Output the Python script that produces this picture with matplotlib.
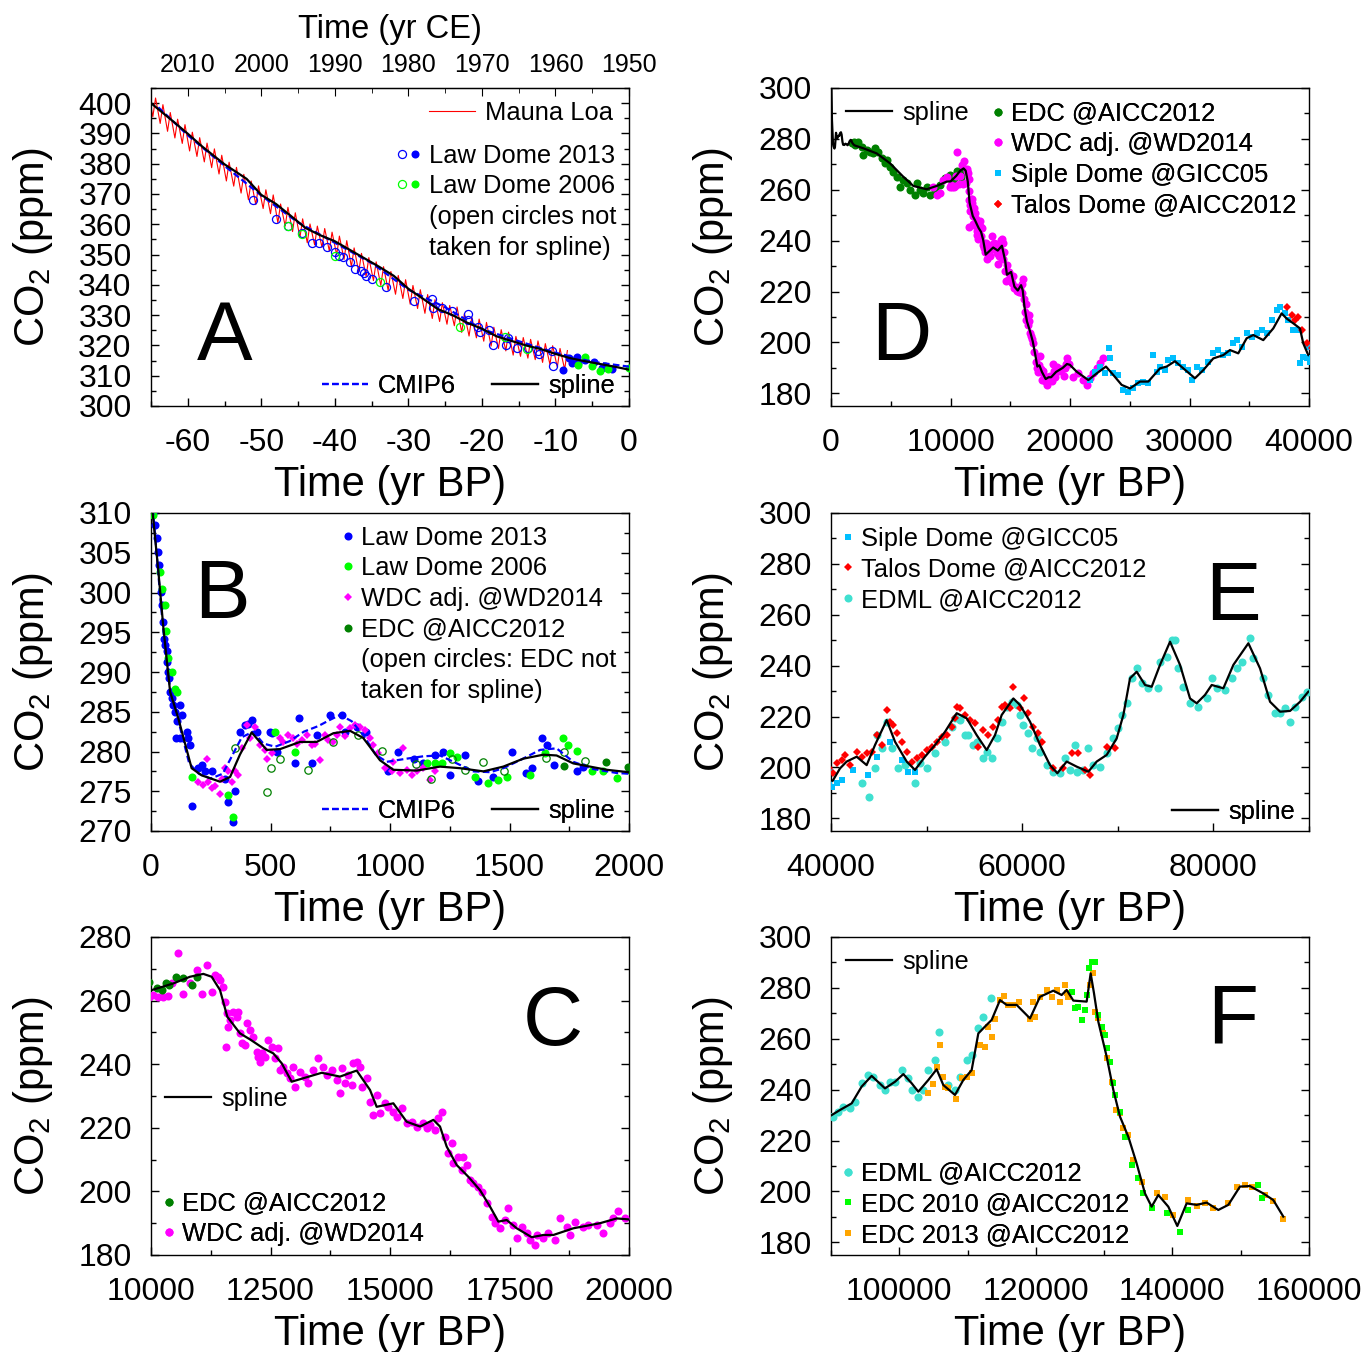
import matplotlib
matplotlib.use('Agg')
import matplotlib.pyplot as plt
from matplotlib.lines import Line2D
from matplotlib.legend_handler import HandlerTuple
from matplotlib.ticker import MultipleLocator, FormatStrFormatter

plt.rcParams['font.family'] = ['Liberation Sans', 'DejaVu Sans']
plt.rcParams['mathtext.fontset'] = 'custom'
plt.rcParams['mathtext.rm'] = 'Liberation Sans'
plt.rcParams['axes.unicode_minus'] = False

# ---------------- data (time in yr BP, CO2 in ppm) ----------------
# Mauna Loa: seasonal maxima (May) and minima (Sep/Oct) per calendar year
ml_year = list(range(1958, 2016))
ml_peak = [318.3, 319.0, 319.9, 320.6, 321.5, 322.0, 322.6, 323.0, 324.4, 325.2,
           326.0, 327.6, 328.7, 329.3, 330.5, 332.7, 333.2, 334.1, 335.1, 336.8,
           338.4, 339.8, 341.7, 343.1, 344.4, 346.0, 347.6, 349.0, 350.4, 352.2,
           354.6, 356.1, 357.4, 358.6, 359.4, 360.1, 361.8, 363.8, 365.6, 366.7,
           369.7, 371.4, 372.7, 374.3, 376.5, 378.8, 380.5, 382.8, 384.9, 386.8,
           388.6, 390.4, 392.9, 394.7, 396.9, 399.5, 401.7, 403.8]
ml_trough = [312.1, 312.8, 313.7, 314.4, 315.3, 315.8, 316.4, 316.8, 318.2, 319.0,
             319.8, 321.4, 322.5, 323.1, 324.3, 326.5, 327.0, 327.9, 328.9, 330.6,
             332.2, 333.6, 335.5, 336.9, 338.2, 339.8, 341.4, 342.8, 344.2, 346.0,
             348.4, 349.9, 351.2, 352.4, 353.2, 353.9, 355.6, 357.6, 359.4, 360.5,
             363.5, 365.2, 366.5, 368.1, 370.3, 372.6, 374.3, 376.6, 378.7, 380.6,
             382.4, 384.2, 386.7, 388.5, 390.7, 393.3, 395.5, 397.6]

spline_bp = [-65, -62, -60, -58, -55, -52, -50, -48, -46, -44, -42, -40, -38, -36,
             -34, -32, -30, -28, -26, -24, -22, -20, -18, -16, -14, -12, -10, -8,
             -6, -4, -2, 0,
             7, 31, 52, 80, 114, 170, 212, 289, 331, 372, 421, 484, 540, 623, 693,
             763, 833, 888, 958, 1014, 1112, 1209, 1293, 1391, 1474, 1558, 1642,
             1697, 1767, 1907, 1997,
             2705, 3821, 4937, 6052, 6889, 8004, 8841, 9678,
             10014, 10467, 10816, 11095, 11269, 11444, 11597, 11862, 12071, 12350,
             12559, 12734, 12943, 13187, 13571, 13954, 14303, 14582, 14721, 15070,
             15349, 15628, 15907, 16046, 16186, 16395, 16639, 16883, 17093, 17267,
             17441, 17651, 17965, 18209, 18418, 18836, 19394, 19743, 19987,
             20556, 21532, 22229, 23010, 23623, 24321, 25018, 25855, 26552, 27528,
             28086, 28783, 29480, 30456, 31154, 31990, 32827, 33385, 34082, 34779,
             35337, 36174, 37011, 37708, 38126, 38684, 39242, 39521, 39939,
             40174, 40941, 41639, 42685, 43731, 44603, 45823, 46695, 47915, 48787,
             49833, 50879, 51925, 53146, 54192, 55238, 56284, 57156, 57853, 59074,
             59771, 60817, 61863, 62909, 63676, 64653, 65699, 66919, 67791, 68837,
             69883, 70581, 71278, 71976, 72848, 73545, 74417, 75463, 76509, 77555,
             78253, 79124, 79822, 81043, 82089, 83658, 84879, 85925, 86971, 88017,
             89063, 89935,
             90098, 91318, 93026, 94491, 95955, 97908, 99372, 100592, 101813,
             102789, 104253, 105473, 106450, 108158, 109378, 110598, 111575,
             112551, 113527, 114747, 115724, 117188, 119141, 120605, 122558,
             123778, 124510, 125487, 127439, 128025, 128513, 129147, 130367,
             131343, 132320, 133540, 134760, 135981, 136955, 137931, 139396,
             140714, 142080, 143545, 145009, 146718, 148182, 149891, 151355,
             153308, 154772, 156237]
spline_co2 = [400.0, 394.0, 389.9, 385.6, 379.8, 375.0, 369.7, 366.7, 362.8, 358.8,
              356.4, 354.4, 351.6, 348.8, 346.0, 343.0, 338.7, 335.4, 332.0, 330.0,
              327.5, 325.5, 323.0, 321.5, 320.0, 318.8, 317.2, 315.8, 314.8, 313.9,
              313.0, 312.0,
              310.0, 302.6, 295.5, 287.5, 284.2, 277.9, 277.0, 276.2, 276.8, 279.6,
              282.4, 280.2, 280.3, 281.2, 281.2, 282.3, 282.6, 281.7, 278.9, 277.7,
              277.6, 278.1, 277.9, 277.5, 278.1, 279.1, 279.6, 279.5, 278.5, 277.7,
              277.4,
              276.3, 274.3, 270.4, 265.1, 261.5, 260.2, 261.5, 263.2,
              263.3, 265.4, 267.5, 268.4, 267.5, 263.3, 254.9, 249.7, 247.8, 245.0,
              243.4, 240.3, 234.5, 235.6, 237.3, 236.1, 238.0, 231.9, 226.6, 227.7,
              221.9, 220.4, 222.5, 220.4, 214.1, 208.3, 204.6, 200.4, 195.2, 190.5,
              191.0, 188.4, 185.6, 186.3, 186.3, 188.4, 190.0, 191.5, 191.2,
              188.5, 185.2, 187.8, 190.5, 187.2, 183.3, 181.9, 184.6, 184.6, 189.8,
              190.5, 192.6, 189.8, 185.9, 189.1, 193.7, 195.0, 197.0, 195.7, 201.6,
              202.9, 200.9, 205.5, 211.4, 209.4, 207.5, 205.5, 199.6, 195.0,
              194.7, 199.6, 202.3, 204.2, 200.9, 208.8, 218.6, 210.1, 202.3, 199.0,
              204.2, 208.8, 214.0, 221.3, 219.3, 212.7, 206.8, 212.7, 220.6, 227.1,
              224.5, 218.0, 208.8, 200.9, 197.7, 202.3, 200.3, 198.3, 202.3, 204.9,
              211.4, 220.6, 235.0, 237.6, 232.4, 231.7, 240.3, 249.4, 240.3, 227.1,
              225.2, 228.5, 232.4, 231.1, 240.3, 248.8, 238.9, 225.8, 221.9, 222.2,
              225.8, 229.8,
              230.0, 232.0, 234.6, 241.2, 245.4, 240.5, 243.1, 246.1, 242.5, 239.2,
              243.8, 248.0, 241.8, 237.9, 243.8, 247.7, 262.1, 264.8, 267.4, 275.2,
              273.3, 273.3, 268.0, 276.5, 278.9, 277.2, 279.2, 275.0, 274.6, 285.7,
              277.9, 266.7, 253.0, 239.9, 229.4, 221.5, 211.0, 199.2, 194.0, 198.6,
              194.0, 186.4, 195.3, 194.7, 195.6, 192.7, 194.7, 201.9, 202.1, 199.2,
              196.6, 190.1]

cmip_bp = [-64, -60, -55, -50, -45, -40, -35, -30, -25, -20, -15, -10, -5, 0,
           15, 40, 60, 80, 100, 130, 160, 200, 250, 300, 340, 380, 428, 470, 520,
           580, 640, 700, 750, 791, 840, 890, 940, 986, 1070, 1140, 1209, 1280,
           1349, 1420, 1474, 1550, 1628, 1697, 1767, 1850, 1948, 2000]
cmip_co2 = [398.6, 389.4, 379.3, 369.5, 360.6, 353.9, 347.2, 338.4, 332.6, 325.4,
            321.4, 317.6, 314.6, 313.0,
            308.0, 299.0, 292.5, 288.0, 285.7, 282.0, 278.5, 277.2, 276.6, 277.2,
            279.5, 281.8, 282.5, 281.0, 280.6, 281.3, 282.5, 283.2, 284.0, 284.6,
            283.8, 282.0, 279.6, 278.7, 279.1, 279.4, 279.5, 278.5, 277.5, 277.4,
            277.9, 279.0, 280.2, 280.4, 278.7, 277.8, 277.3, 277.2]

# Law Dome 2013 (filled: used for spline, open: not used)
ld13_bp = [-9.0, -8.2, -7.8, -7.1, -6.9, -6.0, -4.8, -3.7, -3.2, -2.3,
           7, 17, 24, 31, 35, 40, 45, 52, 54, 59, 66, 68, 73, 77, 80, 86, 93, 100,
           107, 121, 128, 149, 156, 163, 121, 105, 170, 198, 212, 226, 254, 310,
           324, 342, 351, 372, 393, 407, 421, 442, 498, 505, 526, 603, 621, 672,
           693, 749, 798, 812, 861, 900, 993, 1035, 1100, 1139, 1188, 1223, 1251,
           1314, 1370, 1432, 1512, 1568, 1593, 1635, 1656, 1686, 1781, 1809]
ld13_co2 = [311.9, 315.7, 314.3, 316.3, 314.1, 315.2, 314.6, 312.4, 313.2, 312.1,
            310.0, 308.5, 306.8, 305.1, 303.5, 300.1, 298.4, 296.3, 294.2, 293.4,
            292.6, 291.3, 290.0, 289.2, 287.5, 286.7, 285.8, 285.0, 283.8, 285.8,
            284.6, 282.5, 281.7, 280.8, 281.7, 281.7, 273.1, 277.9, 278.3, 277.5,
            277.5, 276.6, 273.7, 271.1, 275.0, 282.5, 283.3, 283.5, 284.0, 282.5,
            282.5, 282.3, 280.0, 278.5, 284.2, 278.5, 282.1, 284.6, 284.6, 282.5,
            283.1, 282.5, 277.5, 280.0, 279.1, 278.6, 279.6, 280.0, 277.0, 279.6,
            276.3, 276.8, 280.0, 277.3, 277.9, 281.7, 280.8, 278.3, 277.5, 278.1]
ld13o_bp = [-51.1, -48.0, -46.4, -44.4, -43.1, -42.2, -41.1, -40.0, -39.4, -38.9,
            -38.0, -37.2, -36.5, -36.0, -35.7, -34.9, -33.0, -29.2, -26.8, -26.7,
            -25.4, -24.1, -21.9, -21.9, -20.6, -20.2, -19.0, -18.5, -16.7, -16.4,
            -15.2, -13.7, -12.4, -12.2, -10.5, -10.3]
ld13o_co2 = [368.0, 361.6, 359.4, 357.0, 353.9, 353.7, 352.4, 350.9, 349.5, 349.3,
             347.5, 345.3, 344.6, 343.8, 343.0, 341.8, 339.4, 334.8, 335.4, 332.2,
             332.2, 331.5, 330.3, 328.4, 326.2, 324.5, 325.1, 320.1, 320.1, 322.3,
             319.0, 319.0, 318.3, 317.2, 318.3, 313.2]

# Law Dome 2006
ld06_bp = [-7.0, -6.0, -5.0, -3.9, -2.8, -0.06,
           10, 38, 45, 59, 63, 73, 86, 100, 107, 170, 324, 342, 519, 603, 1153,
           1188, 1216, 1251, 1279, 1356, 1411, 1453, 1488, 1586, 1649, 1725, 1746,
           1781, 1844, 1893, 1948]
ld06_co2 = [313.5, 316.3, 313.2, 311.6, 312.1, 312.4,
            309.7, 302.6, 300.5, 298.4, 295.1, 291.7, 290.0, 287.9, 287.5, 276.8,
            274.5, 271.8, 282.5, 280.0, 278.5, 278.5, 278.5, 279.8, 279.3, 276.8,
            276.0, 276.4, 276.8, 277.0, 279.8, 281.7, 280.8, 280.1, 277.5, 277.5,
            276.7]
ld06o_bp = [-46.4, -44.4, -40.0, -33.8, -23.0, -16.8, -13.9]
ld06o_co2 = [359.4, 356.8, 349.5, 341.0, 326.2, 322.9, 318.7]

# WDC adj. @WD2014
wdc_bp = [198, 219, 233, 240, 254, 268, 289, 296, 310, 324, 338, 351, 365, 379,
          400, 414, 435, 456, 477, 484, 505, 540, 554, 575, 596, 609, 630, 651,
          672, 686, 707, 728, 742, 763, 777, 791, 812, 833, 854, 874, 895, 916,
          930, 951, 979, 1007, 1042, 1070, 1091, 1112, 1139, 1167, 1188, 1056,
          1014,
          8562, 8841, 9120, 9399, 9678, 9957,
          10049, 10153, 10258, 10363, 10432, 10572, 10676, 10816, 10955, 11060,
          11165, 11269, 11339, 11409, 11444, 11513, 11548, 11583, 11618, 11569,
          11653, 11723, 11792, 11827, 11862, 11897, 11967, 12002, 12071, 12141,
          12211, 12246, 12281, 12315, 12385, 12455, 12525, 12594, 12664, 12699,
          12769, 12838, 12908, 12978, 13013, 13117, 13222, 13292, 13396, 13501,
          13606, 13675, 13780, 13885, 13954, 13989, 14059, 14129, 14198, 14233,
          14303, 14373, 14408, 14512, 14582, 14652, 14721, 14791, 14896, 14965,
          15070, 15140, 15244, 15349, 15454, 15558, 15698, 15768, 15837, 15942,
          16012, 16081, 16151, 16221, 16290, 16325, 16430, 16500, 16535, 16604,
          16674, 16744, 16849, 16918, 17023, 17127, 17197, 17302, 17406, 17476,
          17581, 17651, 17755, 17860, 17930, 18034, 18069, 18209, 18313, 18453,
          18557, 18697, 18767, 18871, 19045, 19150, 19324, 19464, 19603, 19673,
          19778, 19917,
          20276, 20694, 21113, 21392, 21671, 21949, 22229, 22508, 22787]
wdc_co2 = [276.2, 275.8, 279.1, 276.2, 275.4, 275.6, 274.7, 276.6, 277.9, 277.5,
           276.2, 277.5, 277.0, 280.4, 283.3, 281.7, 283.1, 280.8, 280.2, 279.1,
           279.8, 281.7, 281.2, 282.1, 281.7, 281.0, 281.4, 282.1, 280.8, 281.0,
           278.9, 282.1, 281.4, 281.2, 282.1, 283.1, 281.9, 282.9, 283.3, 283.1,
           282.7, 281.7, 280.8, 279.8, 277.9, 277.5, 277.3, 277.7, 277.0, 277.5,
           277.9, 276.4, 277.5, 280.4, 278.7,
           261.2, 257.9, 258.6, 263.8, 265.1, 261.2,
           261.8, 261.2, 261.2, 261.4, 265.4, 274.9, 262.1, 265.4, 269.6, 262.1,
           271.2, 262.8, 268.1, 267.5, 266.5, 264.4, 259.7, 256.0, 251.8, 245.5,
           253.9, 256.5, 254.9, 256.5, 249.7, 246.6, 246.0, 252.9, 250.8, 248.7,
           243.9, 242.4, 240.8, 243.4, 242.4, 247.6, 245.5, 241.8, 245.0, 238.2,
           239.2, 237.1, 235.6, 239.2, 232.9, 237.7, 236.1, 234.0, 238.2, 241.8,
           239.2, 236.6, 238.2, 235.0, 230.8, 238.7, 234.0, 236.6, 233.5, 240.3,
           240.8, 239.2, 232.9, 235.6, 228.2, 224.0, 230.3, 224.5, 227.7, 226.6,
           225.1, 223.5, 226.1, 221.4, 221.9, 220.4, 221.4, 219.8, 220.9, 219.3,
           223.0, 225.1, 217.2, 212.0, 215.1, 208.8, 210.9, 206.7, 210.9, 208.3,
           203.6, 202.5, 201.5, 199.9, 196.2, 192.1, 190.0, 188.4, 191.0, 194.7,
           189.4, 185.2, 188.9, 186.8, 184.7, 183.1, 186.3, 185.2, 186.8, 184.7,
           191.5, 188.9, 186.3, 190.5, 188.9, 189.4, 189.4, 186.8, 190.0, 191.5,
           193.8, 191.5,
           186.5, 187.8, 185.2, 183.3, 185.9, 187.8, 189.8, 191.8, 193.7]

# EDC @AICC2012 (filled: used, open: not used for spline)
edc_bp = [1904, 1997, 1729, 2008, 2287, 2566, 2705, 2984, 3263, 3542, 3681, 3960,
          4239, 4518, 4658, 4937, 5215, 5494, 5773, 6052, 6331, 6610, 7028, 7168,
          7447, 7726, 8004, 8283, 8702, 9120, 9538, 9957,
          10119, 10223, 10314, 10384, 10523, 10676, 10851, 10969]
edc_co2 = [278.7, 278.0, 278.2, 277.6, 278.9, 276.9, 273.7, 275.6, 275.0, 274.3,
           276.3, 275.0, 272.4, 270.4, 271.7, 269.1, 267.1, 265.1, 261.2, 263.8,
           262.5, 259.9, 257.9, 262.5, 259.9, 258.6, 261.2, 257.9, 259.9, 261.9,
           264.5, 265.8,
           263.9, 263.3, 265.6, 264.9, 267.5, 267.0, 264.9, 267.5]
edco_bp = [351, 484, 502, 540, 658, 763, 867, 965, 1109, 1170, 1258, 1314, 1391,
           1478, 1653, 1730, 1816]
edco_co2 = [280.4, 274.9, 277.9, 279.1, 277.7, 281.2, 282.1, 280.1, 278.4, 276.6,
            279.1, 277.7, 278.7, 277.5, 279.2, 280.0, 278.8]

# Siple Dome @GICC05
siple_bp = [21671, 22089, 22508, 22926, 23288, 23344, 23623, 24041, 24460, 24878,
            25296, 25715, 26133, 26552, 26970, 27249, 27528, 27946, 28225, 28643,
            29061, 29480, 29898, 30177, 30595, 31014, 31571, 31990, 32408, 32827,
            33245, 33664, 33943, 34361, 34779, 35198, 35616, 36035, 36453, 36871,
            37290, 37569, 37987, 38266, 38684, 38963, 39242, 39521, 39800, 39939,
            40070, 40593, 41116, 42336, 43905, 44777, 46172, 47393, 48090, 48787]
siple_co2 = [185.2, 188.5, 190.5, 187.8, 197.7, 193.7, 187.8, 187.2, 181.3, 180.6,
             181.9, 183.9, 184.6, 183.9, 195.0, 188.5, 190.5, 189.1, 193.1, 193.7,
             191.8, 190.5, 189.1, 185.2, 190.5, 189.1, 192.4, 195.7, 197.0, 195.0,
             195.7, 199.6, 200.9, 198.3, 203.6, 202.3, 203.6, 204.9, 203.6, 208.8,
             212.7, 214.0, 211.4, 208.8, 204.9, 204.9, 191.8, 194.4, 193.7, 198.3,
             192.4, 193.7, 195.0, 199.0, 197.0, 204.2, 210.1, 202.9, 198.3, 198.3]

# Talos Dome @AICC2012
talos_bp = [38126, 38544, 38823, 39102, 39382, 39800,
            40244, 40593, 41116, 41465, 41988, 42685, 43208, 43731, 44254, 44777,
            45300, 45823, 46172, 46521, 46870, 47393, 47915, 48438, 48961, 49485,
            50008, 50531, 51054, 51577, 52100, 52623, 52972, 53146, 53495, 54018,
            54541, 55064, 55413, 55936, 56459, 56982, 57505, 57853, 58202, 58725,
            59074, 59771, 60190, 60643, 61166, 61689, 62038, 63258, 64304, 65176,
            65873, 66571, 67094, 68837, 69709]
talos_co2 = [214.0, 210.8, 208.8, 210.1, 204.9, 199.6,
             197.7, 201.6, 202.9, 204.9, 200.9, 206.2, 204.2, 205.5, 206.2, 212.7,
             208.8, 222.6, 218.0, 216.7, 213.4, 210.1, 206.2, 202.3, 203.6, 204.9,
             206.8, 208.2, 210.1, 212.1, 212.7, 216.0, 219.3, 223.9, 223.2, 220.6,
             218.6, 217.3, 208.2, 214.7, 212.7, 216.0, 218.6, 223.9, 224.5, 223.2,
             231.7, 223.2, 227.1, 221.3, 216.0, 213.4, 210.1, 199.6, 199.6, 205.5,
             205.5, 199.0, 197.0, 208.2, 207.8]

# EDML @AICC2012
edml_bp = [43208, 44010, 44603, 44777, 45300, 45823, 46346, 47044, 47741, 48787,
           49310, 50008, 50879, 51925, 52623, 52972, 53495, 54018, 54367, 54890,
           55238, 55936, 56284, 56807, 57330, 57853, 58376, 58900, 59423, 59771,
           60120, 60643, 60992, 61515, 61863, 62561, 63258, 63956, 64479, 65002,
           65525, 65699, 66397, 66920, 67443, 68140, 68837, 69535, 70058, 70407,
           70930, 71453, 71976, 72499, 73196, 74242, 74417, 75114, 75637, 75986,
           76335, 76858, 77555, 78427, 79299, 79822, 80345, 81217, 81914, 82437,
           82960, 83832, 84181, 85227, 85750, 86447, 86970, 87494, 88017, 88540,
           89237, 89760,
           90342, 91074, 91806, 92782, 93514, 94491, 95467, 96199, 97175, 97907,
           98639, 99372, 100348, 101324, 101812, 102788, 103520, 104253, 105229,
           105863, 107181, 108157, 108890, 109866, 110598, 111575, 112307, 113381]
edml_co2 = [193.7, 188.5, 199.6, 212.7, 207.5, 218.0, 207.5, 199.6, 200.9, 193.7,
            201.6, 199.6, 205.5, 210.1, 216.0, 219.3, 218.6, 212.7, 212.7, 208.8,
            210.1, 203.6, 206.2, 203.6, 211.4, 218.0, 223.9, 225.8, 224.5, 220.6,
            216.7, 213.4, 207.5, 211.4, 206.2, 200.9, 198.3, 197.7, 203.6, 199.0,
            208.8, 198.3, 199.0, 207.5, 200.9, 200.3, 205.5, 211.4, 215.4, 220.6,
            225.2, 235.0, 238.9, 233.0, 231.1, 231.3, 241.6, 243.5, 250.1, 250.1,
            238.9, 231.7, 225.2, 223.9, 227.1, 235.0, 231.1, 230.4, 235.0, 238.9,
            241.6, 250.7, 242.9, 235.0, 228.5, 221.3, 221.3, 223.2, 218.0, 223.9,
            227.8, 229.8,
            229.4, 231.3, 233.3, 232.7, 235.3, 242.5, 245.8, 245.1, 241.8, 239.9,
            243.1, 243.1, 247.7, 244.4, 239.9, 237.2, 239.9, 247.7, 251.7, 262.8,
            241.8, 239.9, 245.1, 251.7, 253.6, 264.1, 268.7, 275.9]

# EDC 2010 and EDC 2013 @AICC2012
edc10_bp = [125241, 125729, 126217, 126705, 127193, 127437, 127828, 128169, 128657,
            129145, 129633, 130121, 130463, 130853, 131341, 131585, 132318, 133052,
            134028, 135004, 135736, 136956, 139153, 141105, 142325, 152575, 153063]
edc10_co2 = [278.5, 272.0, 272.6, 267.4, 271.3, 277.2, 287.7, 290.3, 290.3, 269.3,
             264.8, 261.5, 256.2, 251.0, 242.5, 237.9, 231.3, 221.5, 210.4, 205.1,
             199.2, 193.3, 191.4, 184.2, 192.7, 202.5, 197.3]
edc13_bp = [104253, 104985, 105473, 105961, 106352, 106693, 107181, 108304, 109134,
            109866, 110598, 111818, 112551, 113039, 113527, 114015, 114747, 115333,
            115967, 116700, 117578, 119140, 119872, 119628, 120604, 121580, 122312,
            123044, 123532, 124264, 124508, 124752, 127437, 127925, 128413, 128657,
            129145, 129877, 130463, 131097, 131732, 132318, 132806, 133540, 134271,
            135491, 137688, 138908, 140128, 142324, 143545, 144765, 145986, 148182,
            149402, 150622, 151598, 153551, 154772, 156236]
edc13_co2 = [238.5, 242.2, 249.0, 257.5, 245.1, 241.2, 240.5, 236.2, 244.4, 245.1,
             246.4, 257.5, 256.9, 264.8, 260.6, 267.6, 275.2, 276.8, 273.3, 273.3,
             274.6, 267.6, 268.4, 274.6, 276.5, 279.2, 276.5, 279.2, 274.6, 281.1,
             277.9, 276.5, 277.2, 281.1, 285.7, 270.6, 268.0, 262.1, 252.3, 243.1,
             232.0, 230.7, 224.8, 222.2, 212.3, 203.8, 199.2, 197.9, 190.7, 196.6,
             194.3, 195.6, 193.3, 195.6, 201.9, 202.5, 201.9, 198.6, 196.4, 189.0]

# ---------------- style ----------------
BLUE, LIME, MAG, DKGREEN = '#0000ff', '#00ff00', '#ff00ff', '#008000'
SKY, TURQ, ORANGE, RED = '#00bfff', '#40e0d0', '#ffa500', '#ff0000'
TICK_FS, LABEL_FS, LEG_FS, LETTER_FS = 23, 30, 18.4, 60
DOT, SQ, DIA = 5.8, 5.0, 3.8

ml_x, ml_y = [], []
for yr, pk, tr in zip(ml_year, ml_peak, ml_trough):
    ml_x += [1950 - (yr + 0.38), 1950 - (yr + 0.75)]
    ml_y += [pk, tr]

fig = plt.figure(figsize=(13.69, 13.52), dpi=100)
W, H = 1369.0, 1352.0


def make_ax(left, top):
    return fig.add_axes([left / W, 1 - (top + 318) / H, 478 / W, 318 / H])


def setup(ax, xlim, ylim, xmaj, xmin, ymaj, ymin):
    ax.set_xlim(*xlim)
    ax.set_ylim(*ylim)
    ax.xaxis.set_major_locator(MultipleLocator(xmaj))
    ax.xaxis.set_minor_locator(MultipleLocator(xmin))
    ax.yaxis.set_major_locator(MultipleLocator(ymaj))
    ax.yaxis.set_minor_locator(MultipleLocator(ymin))
    ax.xaxis.set_major_formatter(FormatStrFormatter('%d'))
    ax.yaxis.set_major_formatter(FormatStrFormatter('%d'))
    ax.tick_params(which='both', direction='in', right=True, top=False, width=1)
    ax.tick_params(which='major', length=6)
    ax.tick_params(which='minor', length=3.5)
    ax.tick_params(axis='x', labelsize=TICK_FS, pad=16)
    ax.tick_params(axis='y', labelsize=TICK_FS, pad=14)
    for s in ax.spines.values():
        s.set_linewidth(1.0)
    ax.set_xlabel('Time (yr BP)', fontsize=LABEL_FS)
    ax.set_ylabel(r'CO$_{\mathregular{2}}$ (ppm)', fontsize=LABEL_FS)
    ax.xaxis.set_label_coords(0.5, -0.185)
    ax.yaxis.set_label_coords(-0.20, 0.5)


def letter(ax, s, x, y):
    ax.text(x, y, s, transform=ax.transAxes, fontsize=LETTER_FS,
            ha='center', va='baseline')


def key(ax, handles, labels, x, y, loc, **kw):
    opts = dict(frameon=False, borderpad=0, borderaxespad=0, fontsize=LEG_FS,
                handletextpad=0.4, labelspacing=0.26, handlelength=1.8)
    opts.update(kw)
    leg = ax.legend(handles, labels, loc=loc, bbox_to_anchor=(x, y), **opts)
    ax.add_artist(leg)
    return leg


def dot(color, marker='o', ms=DOT, **kw):
    return Line2D([], [], ls='none', marker=marker, color=color, ms=ms, mew=0, **kw)


def ring(color, ms=5.8):
    return Line2D([], [], ls='none', marker='o', mfc='none', mec=color, ms=ms, mew=0.9)


spline_h = Line2D([], [], color='k', lw=1.6)
cmip_h = Line2D([], [], color=BLUE, lw=1.6, ls=(0, (3, 1.5)))
blank = Line2D([], [], ls='none')


def draw_spline(ax):
    ax.plot(spline_bp, spline_co2, color='k', lw=1.6, zorder=5)


def draw_cmip(ax):
    ax.plot(cmip_bp, cmip_co2, color=BLUE, lw=1.6, ls=(0, (3, 1.5)), zorder=4)


def pts(ax, x, y, color, marker='o', ms=DOT, z=3, start=None):
    if start is not None:
        keep = [i for i, v in enumerate(x) if v >= start]
        x = [x[i] for i in keep]
        y = [y[i] for i in keep]
    ax.plot(x, y, ls='none', marker=marker, color=color, ms=ms, mew=0, zorder=z)


def open_pts(ax, x, y, color, ms=5.8):
    ax.plot(x, y, ls='none', marker='o', mfc='none', mec=color, ms=ms, mew=0.9,
            zorder=3)


# ---------------- A ----------------
axA = make_ax(151, 88)
axA.plot(ml_x, ml_y, color=RED, lw=0.8, zorder=2)
open_pts(axA, ld13o_bp, ld13o_co2, BLUE)
open_pts(axA, ld06o_bp, ld06o_co2, LIME)
pts(axA, ld13_bp, ld13_co2, BLUE)
pts(axA, ld06_bp, ld06_co2, LIME)
draw_cmip(axA)
draw_spline(axA)
setup(axA, (-65, 0), (300, 405), 10, 5, 10, 5)
sec = axA.secondary_xaxis('top', functions=(lambda x: 1950 - x, lambda x: 1950 - x))
sec.xaxis.set_major_locator(MultipleLocator(10))
sec.xaxis.set_minor_locator(MultipleLocator(5))
sec.xaxis.set_major_formatter(FormatStrFormatter('%d'))
sec.tick_params(which='both', direction='in', labelsize=18, pad=8)
sec.tick_params(which='major', length=6)
sec.tick_params(which='minor', length=3.5)
axA.text(0.5, 1.183, 'Time (yr CE)', transform=axA.transAxes, fontsize=23.5,
         ha='center', va='center')
letter(axA, 'A', 0.155, 0.145)
key(axA, [Line2D([], [], color=RED, lw=0.8)], ['Mauna Loa'], 0.9665, 0.921,
    'center right')
key(axA, [(ring(BLUE), dot(BLUE)), (ring(LIME), dot(LIME)), blank, blank],
    ['Law Dome 2013', 'Law Dome 2006', '(open circles not', 'taken for spline)'],
    0.5167, 0.825, 'upper left', handlelength=0.8,
    handler_map={tuple: HandlerTuple(ndivide=None, pad=0.2)})
key(axA, [cmip_h, spline_h], ['CMIP6', 'spline'], 0.3577, 0.063, 'center left',
    ncol=2, columnspacing=1.4)

# ---------------- B ----------------
axB = make_ax(151, 513)
pts(axB, ld13_bp, ld13_co2, BLUE)
pts(axB, ld06_bp, ld06_co2, LIME)
pts(axB, wdc_bp, wdc_co2, MAG, marker='D', ms=DIA)
open_pts(axB, edco_bp, edco_co2, DKGREEN, ms=5.3)
pts(axB, edc_bp, edc_co2, DKGREEN)
draw_cmip(axB)
draw_spline(axB)
setup(axB, (0, 2000), (270, 310), 500, 250, 5, 2.5)
letter(axB, 'B', 0.148, 0.6698)
key(axB, [dot(BLUE), dot(LIME), dot(MAG, 'D', DIA), dot(DKGREEN), blank, blank],
    ['Law Dome 2013', 'Law Dome 2006', 'WDC adj. @WD2014', 'EDC @AICC2012',
     '(open circles: EDC not', 'taken for spline)'],
    0.3987, 0.96, 'upper left', handlelength=0.5, handletextpad=0.26)
key(axB, [cmip_h, spline_h], ['CMIP6', 'spline'], 0.3577, 0.063, 'center left',
    ncol=2, columnspacing=1.4)

# ---------------- C ----------------
axC = make_ax(151, 937)
pts(axC, wdc_bp, wdc_co2, MAG)
pts(axC, edc_bp, edc_co2, DKGREEN)
draw_spline(axC)
setup(axC, (10000, 20000), (180, 280), 2500, 1250, 20, 10)
letter(axC, 'C', 0.84, 0.6604)
key(axC, [spline_h], ['spline'], 0.0293, 0.4906, 'center left')
key(axC, [dot(DKGREEN), dot(MAG)], ['EDC @AICC2012', 'WDC adj. @WD2014'],
    0.0243, 0.199, 'upper left', handlelength=0.5, handletextpad=0.26)

# ---------------- D ----------------
axD = make_ax(831, 88)
pts(axD, edc_bp, edc_co2, DKGREEN, start=1500)
pts(axD, wdc_bp, wdc_co2, MAG, start=5000)
pts(axD, siple_bp, siple_co2, SKY, marker='s', ms=SQ)
pts(axD, talos_bp, talos_co2, RED, marker='D', ms=DIA)
draw_spline(axD)
setup(axD, (0, 40000), (175, 300), 10000, 5000, 20, 10)
letter(axD, 'D', 0.1464, 0.1447)
key(axD, [spline_h], ['spline'], 0.0314, 0.9214, 'center left')
key(axD, [dot(DKGREEN), dot(MAG), dot(SKY, 's', SQ), dot(RED, 'D', DIA)],
    ['EDC @AICC2012', 'WDC adj. @WD2014', 'Siple Dome @GICC05', 'Talos Dome @AICC2012'],
    0.3364, 0.957, 'upper left', handlelength=0.5, handletextpad=0.26)

# ---------------- E ----------------
axE = make_ax(831, 513)
pts(axE, edml_bp, edml_co2, TURQ)
pts(axE, siple_bp, siple_co2, SKY, marker='s', ms=SQ)
pts(axE, talos_bp, talos_co2, RED, marker='D', ms=DIA)
draw_spline(axE)
setup(axE, (40000, 90000), (175, 300), 20000, 10000, 20, 10)
letter(axE, 'E', 0.84, 0.6635)
key(axE, [dot(SKY, 's', SQ), dot(RED, 'D', DIA), dot(TURQ)],
    ['Siple Dome @GICC05', 'Talos Dome @AICC2012', 'EDML @AICC2012'],
    0.0222, 0.957, 'upper left', handlelength=0.5, handletextpad=0.26)
key(axE, [spline_h], ['spline'], 0.7134, 0.06, 'center left')

# ---------------- F ----------------
axF = make_ax(831, 937)
pts(axF, edml_bp, edml_co2, TURQ)
pts(axF, edc13_bp, edc13_co2, ORANGE, marker='s', ms=SQ)
pts(axF, edc10_bp, edc10_co2, LIME, marker='s', ms=SQ)
draw_spline(axF)
setup(axF, (90000, 160000), (175, 300), 20000, 10000, 20, 10)
letter(axF, 'F', 0.841, 0.6667)
key(axF, [spline_h], ['spline'], 0.0314, 0.9214, 'center left')
key(axF, [dot(TURQ), dot(LIME, 's', SQ), dot(ORANGE, 's', SQ)],
    ['EDML @AICC2012', 'EDC 2010 @AICC2012', 'EDC 2013 @AICC2012'],
    0.0222, 0.2934, 'upper left', handlelength=0.5, handletextpad=0.26)

fig.savefig('out.png', dpi=100)
